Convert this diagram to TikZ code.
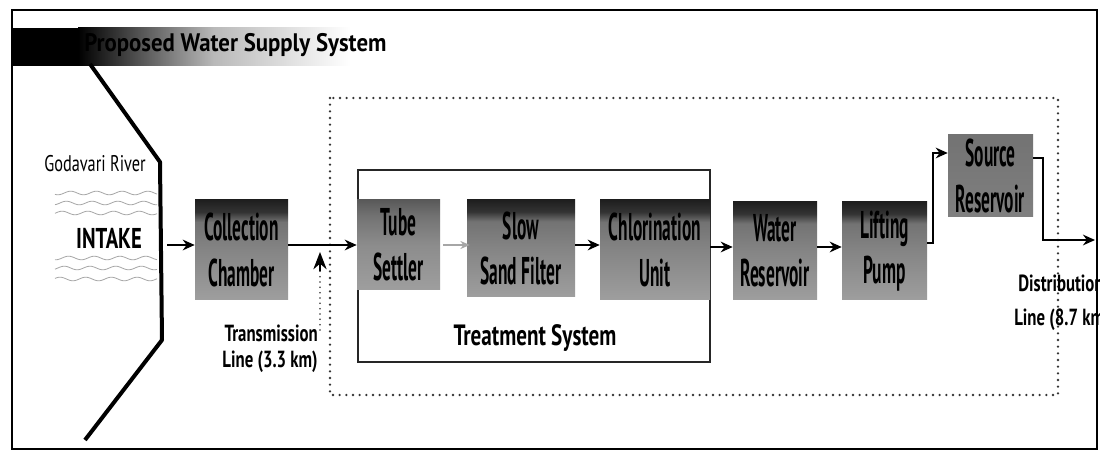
\documentclass[tikz,border=0pt]{standalone}
\usepackage{fontspec}
\setmainfont{PT Sans}
\newfontfamily\ffBox[FakeStretch=0.45]{PT Sans}
\newfontfamily\ffLbl[FakeStretch=0.72]{PT Sans}
\newfontfamily\ffTitle[FakeStretch=0.9]{PT Sans}
\usetikzlibrary{arrows.meta}
\newdimen\pxu \pxu=0.75pt
\pgfdeclareverticalshading{stagedark}{100bp}{color(0bp)=(black!38); color(25bp)=(black!38); color(50bp)=(black!48); color(64bp)=(black!55); color(69bp)=(black!80); color(75bp)=(black!88); color(100bp)=(black!88)}
\pgfdeclareverticalshading{stagelight}{100bp}{color(0bp)=(black!38); color(25bp)=(black!38); color(50bp)=(black!45); color(66bp)=(black!55); color(75bp)=(black!65); color(100bp)=(black!65)}
\pgfdeclareverticalshading{stageflat}{100bp}{color(0bp)=(black!50); color(25bp)=(black!50); color(75bp)=(black!55); color(100bp)=(black!55)}
\tikzset{
  stage/.style={inner sep=0pt, align=center, text=black,
    font=\ffBox\bfseries\fontsize{29}{34}\selectfont, shading=stagedark},
  arr/.style={line width=1.7pt, -{Stealth[length=9pt,width=8pt]}},
  thinarr/.style={line width=1.1pt, gray!70, -{Stealth[length=7pt,width=6pt]}},
  dotbox/.style={black!80, line width=1.9pt, line cap=round, dash pattern=on 0pt off 5pt},
  lbl/.style={font=\ffLbl\bfseries\fontsize{17.5}{20}\selectfont, inner sep=0pt},
  wave/.style={gray!70, line width=0.6pt}
}
\begin{document}
\begin{tikzpicture}[x=0.75pt,y=-0.75pt]
\useasboundingbox (0,0) rectangle (1100,452);
\clip (0,0) rectangle (1100,452);
\fill[white] (0,0) rectangle (1100,452);
% outer frame
\draw[line width=1.6pt] (12,10) rectangle (1097,449);
% header band
\fill[black] (12,28) rectangle (78,66);
\shade[left color=black, right color=white, middle color=gray!55] (78,28) rectangle (350,66);
\node[anchor=west, inner sep=0pt, font=\ffTitle\bfseries\fontsize{19}{22}\selectfont] (title) at (84,45) {Proposed Water Supply System};
% intake shore line
\draw[line width=3pt, line join=round] (90,64) -- (160,162) -- (162,340) -- (85,440);
\node[inner sep=0pt, font=\ffLbl\fontsize{17}{19}\selectfont] (river) at (95,164) {Godavari River};
\node[inner sep=0pt, font=\ffLbl\bfseries\fontsize{21.5}{24}\selectfont] (intake) at (109,238) {INTAKE};
\foreach \yy/\ph in {193/0,203/60,213/120,258/30,268/90,279/150}{
  \draw[wave] plot[domain=55:157, samples=60] (\x, {\yy+1.8*sin(\x*14+\ph)});
}
% dotted system boundary
\draw[dotbox] (330,98) rectangle (1058,395);
% treatment system frame
\node[draw=black!85, line width=1.8pt, minimum width=352\pxu, minimum height=192\pxu, inner sep=0pt] (treat) at (534,266) {};
\node[lbl, font=\ffLbl\bfseries\fontsize{22}{26}\selectfont] (treatlbl) at (535,338) {Treatment System};
% stages
\node[stage, minimum width=93\pxu, minimum height=100\pxu] (coll) at (241.5,250) {Collection\\Chamber};
\node[stage, minimum width=83\pxu, minimum height=90\pxu, shading=stagelight] (tube) at (398.5,245) {Tube\\Settler};
\node[stage, minimum width=108\pxu, minimum height=97\pxu] (slow) at (521,248.5) {Slow\\Sand Filter};
\node[stage, minimum width=110\pxu, minimum height=100\pxu] (chlor) at (655,250) {Chlorination\\Unit};
\node[stage, minimum width=84\pxu, minimum height=98\pxu] (wres) at (775,251) {Water\\Reservoir};
\node[stage, minimum width=85\pxu, minimum height=98\pxu] (lift) at (884.5,251) {Lifting\\Pump};
\node[stage, minimum width=85\pxu, minimum height=82\pxu, shading=stageflat] (src) at (990.5,176) {Source\\Reservoir};
% connectors
\coordinate (intk) at (167,245);
\coordinate (ay) at (0,247);
\coordinate (ly) at (0,243);
\coordinate (sy) at (0,153);
\coordinate (ty) at (0,158);
\coordinate (dist) at (1095,240);
\draw[arr] (intk) -- (coll.west |- intk);
\draw[arr] (coll.east |- intk) -- (tube.west |- intk);
\draw[thinarr] ([xshift=3\pxu]tube.east |- intk) -- ([xshift=3\pxu]slow.west |- intk);
\draw[arr] (slow.east |- intk) -- (chlor.west |- intk);
\draw[arr] (chlor.east |- ay) -- (wres.west |- ay);
\draw[arr] (wres.east |- ay) -- (lift.west |- ay);
\draw[arr] (lift.east |- ly) -- ++(6,0) |- (src.west |- sy);
\draw[arr] (src.east |- ty) -- ++(10,0) |- (dist);
% transmission pointer
\coordinate (tp) at (320,330);
\coordinate (tpt) at (320,252);
\draw[dotbox, line width=1.3pt, dash pattern=on 0pt off 4pt] (tp) -- (tpt);
\draw[line width=1.2pt, -{Stealth[length=13pt,width=10pt]}] ([yshift=-14pt]tpt) -- (tpt);
\node[lbl, anchor=east] (trans) at (318,333) {Transmission};
\node[lbl, anchor=east] (tline) at (318,362) {Line (3.3 km)};
% distribution label
\node[lbl, anchor=west] (dtext) at (1018,283) {Distribution};
\node[lbl, anchor=west] (dline) at (1014,320) {Line (8.7 km)};
\end{tikzpicture}
\end{document}
